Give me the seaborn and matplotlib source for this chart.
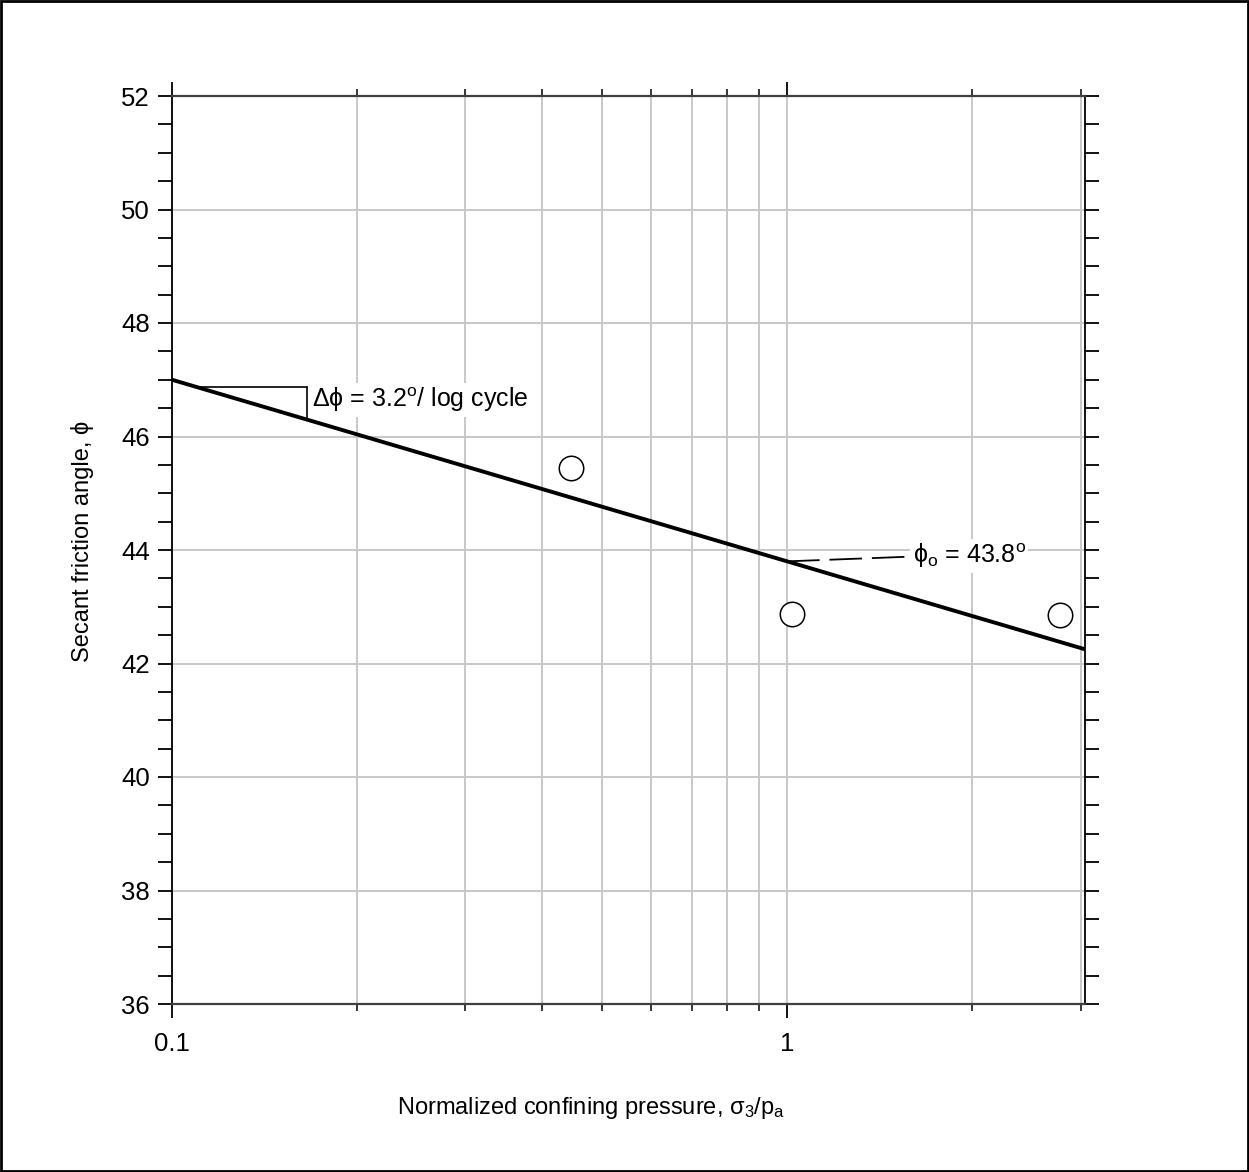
import numpy as np
import pandas as pd
import matplotlib
matplotlib.use("Agg")
import matplotlib.pyplot as plt
from matplotlib.patches import Rectangle
from matplotlib.ticker import FixedLocator, NullFormatter, FixedFormatter
import seaborn as sns

# Measured secant friction angles
confining = [0.445, 1.02, 2.78]
friction = [45.45, 42.88, 42.86]

# Fitted trend: phi = phi0 - dphi * log10(sigma3/pa)
phi0 = 43.8
dphi = 3.2

x_limits = (0.1, 3.05)
y_limits = (36, 52)
y_major = [36, 38, 40, 42, 44, 46, 48, 50, 52]
x_major = [0.1, 1]
x_major_labels = ["0.1", "1"]
x_minor = [0.2, 0.3, 0.4, 0.5, 0.6, 0.7, 0.8, 0.9, 2, 3]

sns.set_theme(style="white")
plt.rcParams["font.family"] = ["Liberation Sans", "DejaVu Sans"]
plt.rcParams["mathtext.fontset"] = "custom"
plt.rcParams["mathtext.rm"] = "Liberation Sans"
plt.rcParams["mathtext.it"] = "Liberation Sans:italic"
plt.rcParams["mathtext.default"] = "regular"
plt.rcParams["text.color"] = "black"
plt.rcParams["axes.labelcolor"] = "black"

fig = plt.figure(figsize=(12.49, 11.72), dpi=100)
ax = fig.add_axes([172 / 1249, 1 - 1004 / 1172, (1085 - 172) / 1249, (1004 - 96) / 1172])

# Fit line across the plotted range
fit_x = np.array(x_limits)
fit = pd.DataFrame({"x": fit_x, "phi": phi0 - dphi * np.log10(fit_x)})
sns.lineplot(data=fit, x="x", y="phi", ax=ax, color="black", linewidth=2.8, zorder=4)

pts = pd.DataFrame({"x": confining, "phi": friction})
sns.scatterplot(data=pts, x="x", y="phi", ax=ax, s=310, facecolor="white",
                edgecolor="black", linewidth=1.1, zorder=5)

ax.set_xscale("log")
ax.set_xlim(*x_limits)
ax.set_ylim(*y_limits)

ax.xaxis.set_major_locator(FixedLocator(x_major))
ax.xaxis.set_major_formatter(FixedFormatter(x_major_labels))
ax.xaxis.set_minor_locator(FixedLocator(x_minor))
ax.xaxis.set_minor_formatter(NullFormatter())
ax.yaxis.set_major_locator(FixedLocator(y_major))
ax.yaxis.set_minor_locator(FixedLocator(np.arange(36, 52.01, 0.5)))

ax.grid(True, which="both", axis="x", color="#c8c8c8", linewidth=1.4, zorder=0)
ax.grid(True, which="major", axis="y", color="#c8c8c8", linewidth=1.4, zorder=0)
ax.set_axisbelow(True)

ax.tick_params(axis="x", which="major", direction="out", length=10, width=1.3,
               top=True, bottom=True, labelsize=18.5, pad=10, colors="black")
ax.tick_params(axis="x", which="minor", direction="out", length=5, width=1.3,
               top=True, bottom=True)
ax.tick_params(axis="y", which="both", direction="out", length=10, width=1.3,
               left=True, right=True, labelsize=18.5, pad=6, colors="black")

for side in ["left", "right"]:
    ax.spines[side].set_color("black")
    ax.spines[side].set_linewidth(1.3)
for side in ["top", "bottom"]:
    ax.spines[side].set_color("#404040")
    ax.spines[side].set_linewidth(1.6)

ax.set_xlabel("Normalized confining pressure, σ$_3$/p$_a$", fontsize=17)
ax.xaxis.set_label_coords(0.459, -0.100)
ax.set_ylabel("Secant friction angle, ϕ", fontsize=17)
ax.yaxis.set_label_coords(-0.085, 0.51)

# Slope triangle
tri_x0, tri_x1, tri_y = 0.11, 0.1657, 46.87
ax.plot([tri_x0, tri_x1], [tri_y, tri_y], color="black", linewidth=1.2, zorder=3)
ax.plot([tri_x1, tri_x1], [tri_y, phi0 - dphi * np.log10(tri_x1)], color="black",
        linewidth=1.2, zorder=3)
ax.text(0.169, 46.64, "Δϕ = 3.2$^{o}$/ log cycle", fontsize=18, va="center", ha="left",
        zorder=3, bbox=dict(facecolor="white", edgecolor="none", pad=2))

# Reference value at sigma3/pa = 1
ax.plot([1.0, 1.56], [phi0, 43.88], color="black", linewidth=1.3,
        dashes=(18, 5.5), zorder=3)
ax.text(1.6, 43.9, "ϕ$_{o}$ = 43.8$^{o}$", fontsize=18, va="center", ha="left",
        zorder=3, bbox=dict(facecolor="white", edgecolor="none", pad=2))

fig.patches.append(Rectangle((0.001, 0.001), 0.998, 0.998, transform=fig.transFigure,
                             fill=False, edgecolor="black", linewidth=2))

fig.savefig("out.png", dpi=100, facecolor="white")
